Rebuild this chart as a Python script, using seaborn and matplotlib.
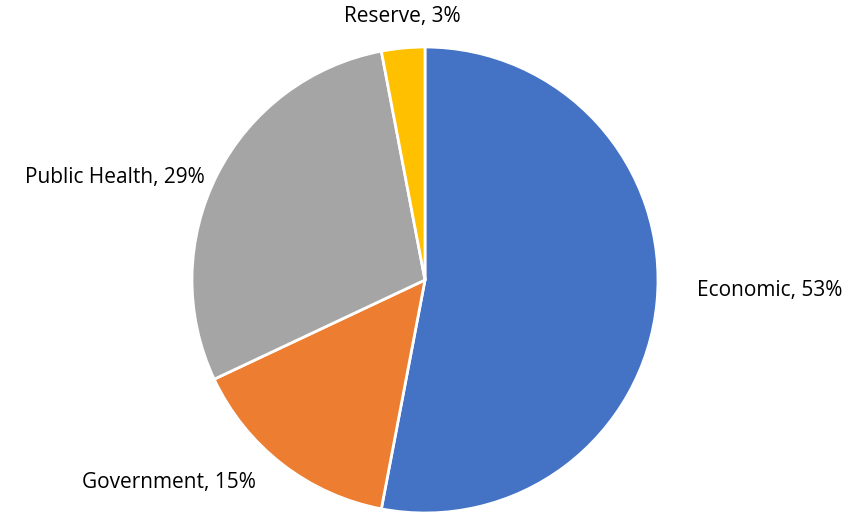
import matplotlib
matplotlib.use('Agg')
import matplotlib.pyplot as plt
import seaborn as sns
import numpy as np

# ===== DATA =====
categories = ['Economic', 'Government', 'Public Health', 'Reserve']
shares = [53, 15, 29, 3]
colors = ['#4472C4', '#ED7D31', '#A5A5A5', '#FFC000']

sns.set_theme(style='white')
plt.rcParams['font.family'] = ['Open Sans', 'DejaVu Sans']

fig = plt.figure(figsize=(8.68, 5.12), dpi=100)
W, H = 868, 512
cx, cy, r = 425, 280, 233
ax = fig.add_axes([(cx - r) / W, 1 - (cy + r) / H, 2 * r / W, 2 * r / H])

wedges, _ = ax.pie(shares, colors=colors, startangle=90, counterclock=False,
                   radius=1, wedgeprops=dict(edgecolor='white', linewidth=2))
ax.set_xlim(-1, 1)
ax.set_ylim(-1, 1)
ax.set_aspect('equal')
ax.axis('off')

# label placement (radius units relative to pie centre), tuned by eye
label_pos = [(1.167, -0.043, 'left'),
             (-1.099, -0.871, 'center'),
             (-0.944, 0.442, 'right'),
             (-0.099, 1.129, 'center')]
for name, val, (x, y, ha) in zip(categories, shares, label_pos):
    ax.text(x, y, f'{name}, {val}%', ha=ha, va='center', fontsize=15,
            color='#000000', clip_on=False)

fig.savefig('out.png', dpi=100)
